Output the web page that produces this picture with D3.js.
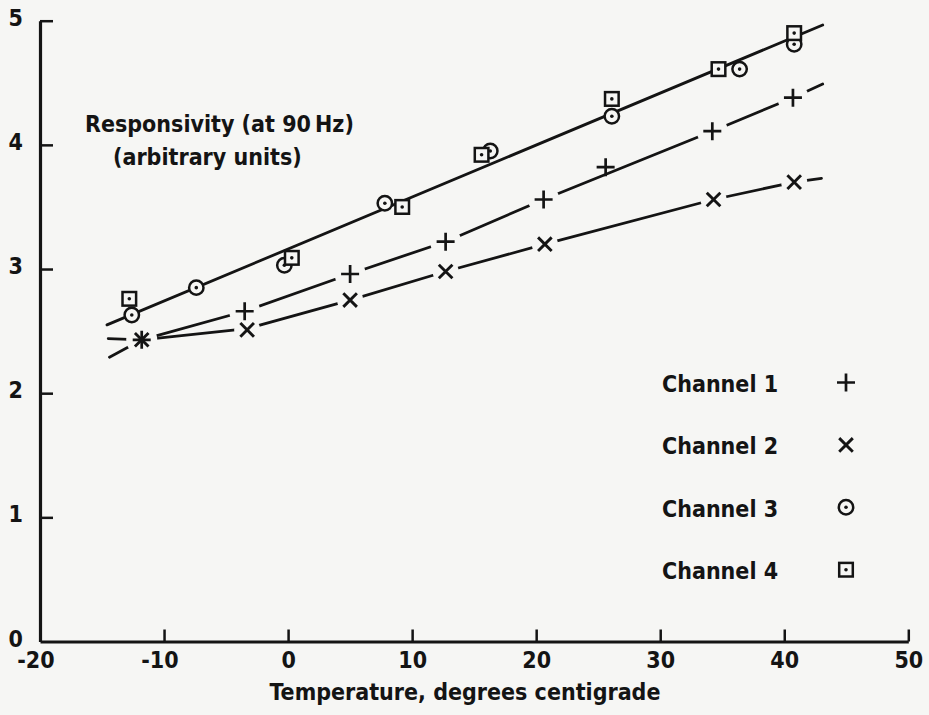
<!DOCTYPE html>
<html>
<head>
<meta charset="utf-8">
<script src="https://cdn.jsdelivr.net/npm/d3@7"></script>
<style>
  html, body { margin: 0; padding: 0; background: #f6f6f4; }
  svg { display: block; }
  text { font-family: "DejaVu Sans Condensed", "DejaVu Sans", sans-serif; font-stretch: condensed; font-weight: bold; fill: #141414; }
</style>
</head>
<body>
<svg id="chart" width="929" height="715"></svg>
<script>
// Temperature (deg C) and responsivity (arbitrary units) for each channel
const ch1Temp = [-11.8, -3.5, 5.0, 12.7, 20.6, 25.6, 34.2, 40.7];
const ch1Resp = [2.43, 2.66, 2.96, 3.22, 3.56, 3.82, 4.11, 4.38];
const ch2Temp = [-11.8, -3.3, 5.0, 12.7, 20.7, 34.3, 40.8];
const ch2Resp = [2.43, 2.51, 2.75, 2.98, 3.20, 3.56, 3.70];
const ch3Temp = [-12.6, -7.4, -0.3, 7.8, 16.3, 26.1, 36.4, 40.8];
const ch3Resp = [2.63, 2.85, 3.03, 3.53, 3.95, 4.23, 4.61, 4.81];
const ch4Temp = [-12.8, 0.3, 9.2, 15.6, 26.1, 34.7, 40.8];
const ch4Resp = [2.76, 3.09, 3.50, 3.92, 4.37, 4.61, 4.90];

// Hand-fitted trend lines (drawn point to point)
const fit1Temp = [-14.4, -11.8, -3.5, 5.0, 12.7, 20.6, 34.2, 40.7, 43.1];
const fit1Resp = [2.29, 2.43, 2.66, 2.96, 3.22, 3.56, 4.11, 4.38, 4.49];
const fit2Temp = [-14.5, -11.8, -3.3, 5.0, 12.7, 20.7, 34.3, 40.8, 43.0];
const fit2Resp = [2.44, 2.43, 2.52, 2.75, 2.98, 3.20, 3.56, 3.70, 3.73];
const fit34Temp = [-14.6, 43.1];
const fit34Resp = [2.55, 4.965];

// Axis ticks and labels
const xTicks = [-20, -10, 0, 10, 20, 30, 40, 50];
const yTicks = [0, 1, 2, 3, 4, 5];
const legendLabels = ["Channel 1", "Channel 2", "Channel 3", "Channel 4"];
const legendSymbols = ["plus", "cross", "circle", "square"];
const titleLines = ["Responsivity (at 90\u2009Hz)", "(arbitrary units)"];
const xTitle = "Temperature, degrees centigrade";

const INK = "#141414";
const BG = "#f6f6f4";
const svg = d3.select("#chart");

const x = d3.scaleLinear().domain([-20, 50]).range([40, 908.3]);
const y = d3.scaleLinear().domain([0, 5]).range([641.5, 20.7]);

// ---- axes (ticks point inward) ----
const xAxis = svg.append("g")
  .attr("transform", `translate(0,${y(0)})`)
  .call(d3.axisBottom(x).tickValues(xTicks).tickSize(-12).tickSizeOuter(0).tickPadding(10)
    .tickFormat(d => d < 0 ? "-" + Math.abs(d) : String(d)));
const yAxis = svg.append("g")
  .attr("transform", `translate(${x(-20)},0)`)
  .call(d3.axisLeft(y).tickValues(yTicks).tickSize(-13).tickSizeOuter(0).tickPadding(17)
    .tickFormat(d3.format("d")));

[xAxis, yAxis].forEach(g => {
  g.select(".domain").attr("stroke", INK).attr("stroke-width", 3.2);
  g.selectAll(".tick line").attr("stroke", INK).attr("stroke-width", 2.5);
  g.selectAll(".tick text").attr("font-size", 23).attr("fill", INK)
    .style("font-family", "'DejaVu Sans Condensed', 'DejaVu Sans', sans-serif")
    .style("font-weight", "bold");
});
xAxis.selectAll(".tick text").attr("dx", d => d < 0 ? "-0.2em" : 0);
yAxis.selectAll(".tick text").attr("dy", "0.2em");
yAxis.selectAll(".tick").filter(d => d === 0).select("line").remove();
xAxis.selectAll(".tick").filter(d => d === -20).select("line").remove();

// ---- trend lines ----
const line = d3.line().x(d => x(d[0])).y(d => y(d[1]));
const lines = svg.append("g").attr("fill", "none").attr("stroke", INK)
  .attr("stroke-width", 2.8).attr("stroke-linecap", "round");
lines.append("path").attr("d", line(d3.zip(fit34Temp, fit34Resp)));
lines.append("path").attr("d", line(d3.zip(fit1Temp, fit1Resp)));
lines.append("path").attr("d", line(d3.zip(fit2Temp, fit2Resp)));

// Break the channel 1 and 2 lines around the markers that sit on them
const halos = svg.append("g").attr("fill", BG);
function breakLine(fitT, fitR, ptsT, ptsR, radius) {
  const onLine = d3.scaleLinear().domain(fitT).range(fitR);
  ptsT.forEach((t, i) => {
    if (Math.abs(y(ptsR[i]) - y(onLine(t))) < 6) {
      halos.append("circle").attr("cx", x(t)).attr("cy", y(ptsR[i])).attr("r", radius);
    }
  });
}
breakLine(fit1Temp, fit1Resp, ch1Temp, ch1Resp, 15.5);
breakLine(fit2Temp, fit2Resp, ch2Temp, ch2Resp, 13);

// ---- markers ----
function drawSymbol(g, kind, cx, cy) {
  const s = g.append("g").attr("transform", `translate(${cx},${cy})`)
    .attr("stroke", INK).attr("fill", "none").attr("stroke-width", 2.7);
  if (kind === "plus") {
    s.append("path").attr("d", "M-9,0H9M0,-9V9");
  } else if (kind === "cross") {
    s.append("path").attr("d", "M-6.8,-6.8L6.8,6.8M-6.8,6.8L6.8,-6.8").attr("stroke-width", 2.9);
  } else if (kind === "circle") {
    s.append("circle").attr("r", 7.2).attr("fill", BG).attr("stroke-width", 2.5);
    s.append("circle").attr("r", 1.8).attr("fill", INK).attr("stroke", "none");
  } else if (kind === "square") {
    s.append("rect").attr("x", -6.8).attr("y", -6.8).attr("width", 13.6).attr("height", 13.6)
      .attr("fill", BG).attr("stroke-width", 2.5);
    s.append("circle").attr("r", 1.8).attr("fill", INK).attr("stroke", "none");
  }
}
const marks = svg.append("g");
ch3Temp.forEach((t, i) => drawSymbol(marks, "circle", x(t), y(ch3Resp[i])));
ch4Temp.forEach((t, i) => drawSymbol(marks, "square", x(t), y(ch4Resp[i])));
ch1Temp.forEach((t, i) => drawSymbol(marks, "plus", x(t), y(ch1Resp[i])));
ch2Temp.forEach((t, i) => drawSymbol(marks, "cross", x(t), y(ch2Resp[i])));

// ---- legend ----
const legend = svg.append("g");
legendLabels.forEach((lab, i) => {
  const by = 392 + i * 62.4;
  legend.append("text").attr("x", 662).attr("y", by).attr("font-size", 23).text(lab);
  drawSymbol(legend, legendSymbols[i], 846, by - 9.5);
});

// ---- titles ----
svg.append("text").attr("x", 85).attr("y", 132).attr("font-size", 23).text(titleLines[0]);
svg.append("text").attr("x", 113).attr("y", 165).attr("font-size", 23).text(titleLines[1]);
svg.append("text").attr("x", 465).attr("y", 700).attr("font-size", 23)
  .attr("text-anchor", "middle").text(xTitle);
</script>
</body>
</html>
